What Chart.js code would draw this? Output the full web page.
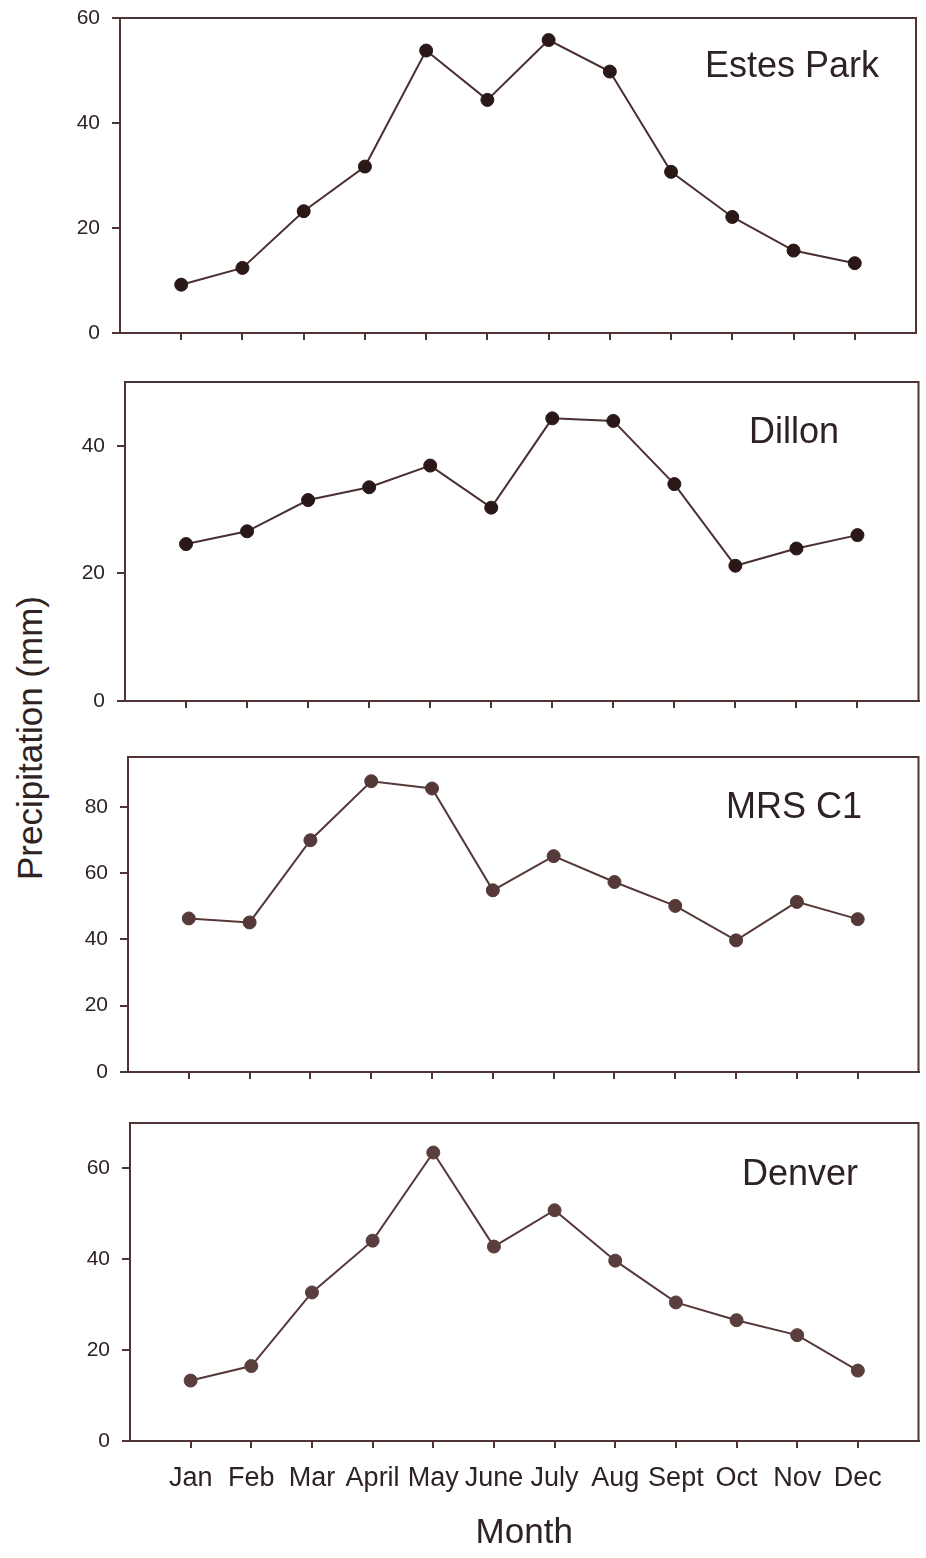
<!DOCTYPE html>
<html>
<head>
<meta charset="utf-8">
<script src="https://cdn.jsdelivr.net/npm/chart.js@4/dist/chart.umd.min.js"></script>
<style>
  body { margin: 0; background: #fff; }
  #wrap { position: relative; width: 926px; height: 1558px; overflow: hidden; }
  canvas { position: absolute; left: 0; }
  #ytitle {
    position: absolute; left: 30px; top: 738px;
    transform: translate(-50%, -50%) rotate(-90deg);
    font: 35px "Liberation Sans", Arial, sans-serif; color: #2e2222; white-space: nowrap;
  }
</style>
</head>
<body>
<div id="wrap">
  <div id="ytitle">Precipitation (mm)</div>
  <canvas id="c1"></canvas>
  <canvas id="c2"></canvas>
  <canvas id="c3"></canvas>
  <canvas id="c4"></canvas>
</div>
<script>
// datos (mm)
const months = ['Jan', 'Feb', 'Mar', 'April', 'May', 'June', 'July', 'Aug', 'Sept', 'Oct', 'Nov', 'Dec'];
const estesPark = [9.2, 12.4, 23.2, 31.7, 53.8, 44.4, 55.8, 49.8, 30.7, 22.1, 15.7, 13.3];
const dillon = [24.6, 26.6, 31.5, 33.5, 36.9, 30.3, 44.3, 43.9, 34.0, 21.2, 23.9, 26.0];
const mrsC1 = [46.3, 45.1, 69.9, 87.7, 85.5, 54.8, 65.1, 57.3, 50.1, 39.7, 51.3, 46.1];
const denver = [13.3, 16.5, 32.7, 44.1, 63.5, 42.8, 50.8, 39.7, 30.5, 26.6, 23.3, 15.5];

const estesTicks = [0, 20, 40, 60];
const dillonTicks = [0, 20, 40];
const mrsTicks = [0, 20, 40, 60, 80];
const denverTicks = [0, 20, 40, 60];

const FONT = '"Liberation Sans", Arial, sans-serif';
const AXIS = '#4e3434';
const TEXT = '#2e2222';

// marco superior y derecho
const framePlugin = {
    id: 'frame',
    afterDraw(chart) {
        const a = chart.chartArea, ctx = chart.ctx;
        ctx.save();
        ctx.strokeStyle = AXIS;
        ctx.lineWidth = 2;
        ctx.beginPath();
        ctx.moveTo(a.left, a.top);
        ctx.lineTo(a.right, a.top);
        ctx.lineTo(a.right, a.bottom);
        ctx.stroke();
        ctx.restore();
    }
};

// titulo de la estacion
const namePlugin = {
    id: 'stationName',
    afterDraw(chart, args, opts) {
        const ctx = chart.ctx;
        ctx.save();
        ctx.font = '36px ' + FONT;
        ctx.fillStyle = TEXT;
        ctx.textAlign = 'right';
        ctx.textBaseline = 'alphabetic';
        ctx.fillText(opts.text, opts.x, opts.y);
        ctx.restore();
    }
};

function makePanel(id, cfg) {
    // el eje y reserva ~25px arriba y abajo para sus etiquetas
    const padTop = 28;
    const yW = 70;
    const canvas = document.getElementById(id);
    const h = padTop + (cfg.bottom - cfg.top) + cfg.xH;
    canvas.style.top = (cfg.top - padTop) + 'px';
    canvas.width = 926;
    canvas.height = h;
    canvas.style.width = '926px';
    canvas.style.height = h + 'px';

    new Chart(canvas.getContext('2d'), {
        type: 'line',
        data: {
            datasets: [{
                data: cfg.values.map((v, i) => ({ x: i + 1, y: v })),
                borderColor: cfg.lineColor,
                borderWidth: 2,
                pointRadius: 6.5,
                pointBackgroundColor: cfg.pointColor,
                pointBorderColor: cfg.pointColor,
                pointBorderWidth: 1,
                tension: 0,
                clip: false
            }]
        },
        options: {
            responsive: false,
            animation: false,
            devicePixelRatio: 1,
            layout: {
                padding: { top: padTop, left: cfg.left - yW, right: 926 - cfg.right, bottom: 0 }
            },
            plugins: {
                legend: { display: false },
                tooltip: { enabled: false },
                stationName: { text: cfg.name, x: cfg.nameX, y: cfg.nameY - cfg.top + padTop }
            },
            scales: {
                x: {
                    type: 'linear',
                    min: 0,
                    max: 13,
                    afterBuildTicks: s => { s.ticks = months.map((m, i) => ({ value: i + 1 })); },
                    afterFit: s => { s.height = cfg.xH; },
                    grid: { drawOnChartArea: false, color: AXIS, lineWidth: 2, tickLength: 7 },
                    border: { color: AXIS, width: 2 },
                    ticks: {
                        autoSkip: false,
                        maxRotation: 0,
                        padding: 14,
                        color: TEXT,
                        font: { family: FONT, size: 27 },
                        callback: v => cfg.showMonths ? months[v - 1] : ''
                    },
                    title: {
                        display: cfg.showMonths,
                        text: 'Month',
                        color: TEXT,
                        font: { family: FONT, size: 35 },
                        padding: { top: 20 }
                    }
                },
                y: {
                    min: 0,
                    max: cfg.max,
                    afterBuildTicks: s => { s.ticks = cfg.ticks.map(v => ({ value: v })); },
                    afterFit: s => { s.width = yW; },
                    grid: { drawOnChartArea: false, color: AXIS, lineWidth: 2, tickLength: 8 },
                    border: { color: AXIS, width: 2 },
                    ticks: { padding: 12, color: TEXT, font: { family: FONT, size: 21 } }
                }
            }
        },
        plugins: [framePlugin, namePlugin]
    });
}

makePanel('c1', { values: estesPark, ticks: estesTicks, max: 60, name: 'Estes Park',
    left: 120, right: 916, top: 18, bottom: 333, xH: 28, nameX: 879, nameY: 77,
    lineColor: '#4a3030', pointColor: '#2a1818', showMonths: false });
makePanel('c2', { values: dillon, ticks: dillonTicks, max: 50, name: 'Dillon',
    left: 125, right: 919, top: 382, bottom: 701, xH: 28, nameX: 839, nameY: 443,
    lineColor: '#4a3030', pointColor: '#2a1818', showMonths: false });
makePanel('c3', { values: mrsC1, ticks: mrsTicks, max: 95, name: 'MRS C1',
    left: 128, right: 920, top: 757, bottom: 1072, xH: 28, nameX: 862, nameY: 818,
    lineColor: '#553838', pointColor: '#553838', showMonths: false });
makePanel('c4', { values: denver, ticks: denverTicks, max: 70, name: 'Denver',
    left: 130, right: 923, top: 1123, bottom: 1441, xH: 117, nameX: 858, nameY: 1185,
    lineColor: '#553838', pointColor: '#5a3d3d', showMonths: true });
</script>
</body>
</html>
